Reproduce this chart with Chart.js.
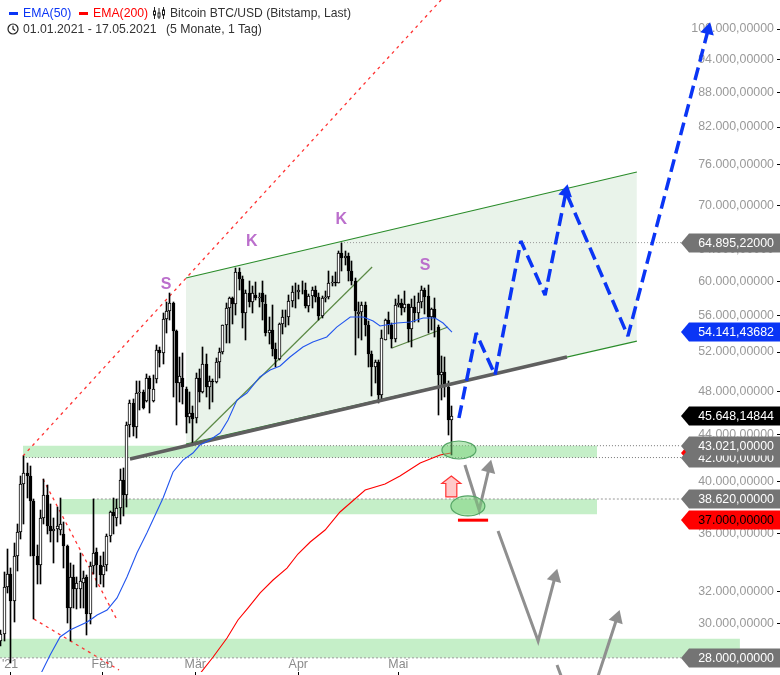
<!DOCTYPE html>
<html>
<head>
<meta charset="utf-8">
<style>
  html, body { margin: 0; padding: 0; background: #fff; }
  #wrap { position: relative; width: 780px; height: 675px; overflow: hidden; font: 12.25px "Liberation Sans", Arial, sans-serif; color: #333; }
  #line-chart { position: absolute; left: 0; top: 0; }
  .head { position: absolute; white-space: pre; line-height: 14px; }
</style>
<script src="https://cdn.jsdelivr.net/npm/chart.js@4"></script>
</head>
<body>
<div id="wrap">
  <canvas id="line-chart" width="780" height="675"></canvas>
  <div class="head" style="left:9px;top:12px;width:9px;height:3px;background:#0a35f5"></div>
  <div class="head" style="left:23px;top:6px;color:#0a35f5">EMA(50)</div>
  <div class="head" style="left:79px;top:12px;width:9px;height:3px;background:#f00"></div>
  <div class="head" style="left:93px;top:6px;color:#f00">EMA(200)</div>
  <svg class="head" style="left:153px;top:7px" width="12" height="12" viewBox="0 0 12 12" fill="none" stroke="#222"><path d="M1.5 0v12M6 1v11M10.5 0v12"/><rect x=".5" y="4" width="2" height="4" fill="#fff"/><rect x="5" y="6" width="2" height="4" fill="#fff"/><rect x="9.5" y="3" width="2" height="5" fill="#fff"/></svg>
  <div class="head" style="left:170px;top:6px;font-size:12.12px">Bitcoin BTC/USD (Bitstamp, Last)</div>
  <svg class="head" style="left:7px;top:23px" width="12" height="12" viewBox="0 0 12 12" fill="none" stroke="#222" stroke-width="1.2"><circle cx="6" cy="6" r="5"/><path d="M6 2.8V6l2.2 1.6"/></svg>
  <div class="head" style="left:23px;top:22px">01.01.2021 - 17.05.2021</div>
  <div class="head" style="left:166px;top:22px">(5 Monate, 1 Tag)</div>
</div>
<script>
// daily candles, day 0 = 01.01.2021
const opens = [28990,29374,32300,33200,31400,34400,36100,39800,40700,40500,38500,34400,33800,37200,38900,36600,36200,36350,36300,36000,35100,31000,33000,32200,32200,32600,33000,30600,33700,34700,33800,33100,33800,35800,37600,37200,37900,40100,38900,44900,46900,44700,47900,48000,47100,49300,47100,49200,52200,51900,55600,56500,57400,54300,48800,49300,48300,45600,46000,45500,49300,48000,50800,48400,49000,48900,51000,52000,54900,56900,58000,57300,61100,60300,56300,58600,57600,58400,58000,58600,57351,54083,54340,52303,51293,55025,55817,55777,57635,58746,58760,59004,59015,57090,58207,58970,58076,55969,58000,58100,59770,59980,59830,63575,62959,63160,61334,60006,56150,56400,57200,54930,51790,50450,50960,47670,53300,55480,54930,53390,57200,57430,56850,57260,54490,56980,56270,57550,58960,58270,55820,56700,54700,49600,49900,48400,45300]
const highs = [29600,33300,34900,33600,35300,36700,40500,42100,41500,41300,38600,35200,37800,40200,39700,38200,37200,38000,38700,36900,35200,33900,33800,33000,34600,33400,33100,34000,38600,35000,34400,34700,36000,37700,38700,38600,41000,41100,45100,47200,47300,49000,49000,48200,49700,49500,49600,52700,52500,56300,57500,58600,57600,54400,51500,51900,48400,48000,46600,49800,50200,52500,51800,49500,49200,51400,52400,54900,57400,58100,58100,61700,61700,60600,59000,60100,59400,59900,58600,60000,58400,55800,57200,53000,55100,56600,56600,58400,59400,59800,59500,60000,59800,58500,59300,59400,58600,58200,58900,61300,60700,61100,63800,64895,63800,63500,62500,60400,57500,57500,57500,55400,52100,51200,51200,54350,55600,56400,55200,57900,58400,57900,58900,57300,57900,58300,58600,59400,59200,59500,56800,58000,54900,51600,51500,49000,46600]
const lows = [28700,29000,31900,27700,30100,33400,35600,36700,38700,34400,30300,32500,32500,36700,36000,35400,33900,35400,35900,33600,30071,29000,31000,30900,31000,31000,29300,30000,33200,32300,32500,32300,33400,35400,36000,36600,36700,37300,38000,43800,43900,43700,46200,46300,47000,46000,47000,48800,50500,50800,54000,55500,47500,44900,47000,46800,44100,45000,43100,45000,47000,47900,47500,46300,47000,48800,49300,51800,53000,53000,55000,56100,59000,54600,53300,57000,56300,57800,57000,55500,53700,52900,51600,50400,51200,53900,54700,54900,57000,56800,57900,58500,56900,56400,56800,57600,55500,55700,57600,57900,59400,59400,59800,61300,62000,60000,59600,51700,53500,53300,53700,50500,47600,48800,46900,47300,53300,53900,52400,53100,57000,56100,56400,53100,52500,55300,55300,56900,56200,54000,54400,53600,45800,47200,47500,44000,42200]
const closes = [29374,32300,33200,31400,34400,36100,39800,40700,40500,38500,34400,33800,37200,38900,36600,36200,36350,36600,36700,35100,31000,33000,32200,32600,32700,32900,30600,33700,34600,33800,33100,33700,35800,37600,37300,37900,40100,38900,44900,46900,44700,47900,48000,46400,49300,48300,48300,52200,51900,55600,56500,57400,54300,48800,49500,48400,45600,46000,45400,49300,48000,50800,48400,49000,48900,51000,52000,54900,56900,58000,57300,61100,60300,56300,58600,57600,58600,58000,58100,57600,54083,54340,52303,51293,55025,55817,55777,57635,58746,58760,59004,59015,57090,58207,58970,58076,55969,58000,58100,59770,59980,59830,63575,62959,63160,61334,60006,56500,56400,57200,54930,51790,50450,50960,47670,53500,55480,54930,53390,57200,57430,56850,57260,54490,56980,56270,57550,58960,58130,55820,56680,55700,49600,49900,48400,45300,45648]

const ema50Days = [11.9,14.9,17.9,20.9,26.1,29.1,32.1,35.1,38.1,41.1,44.1,49,52,55,58,60.1,63.1,66.2,68.6,71.3,74.3,78.2,81.3,84.3,87.3,91.2,94.2,98.4,101.4,105.5,109.4,112.4,114.5,119.6,123.6,127.5,131.1,133.5,136.2]
const ema50 = [27040,28160,29210,29620,30110,30540,30850,31610,32980,34620,36050,38700,40790,41790,42390,43080,43520,44140,45320,47190,47860,49440,50140,50550,51480,52530,53070,53610,54700,55820,55820,55370,54820,55150,55260,55710,55710,55150,54141]
const ema200Days = [59.8,64.1,68.3,71.6,74.6,78.3,82.2,86.4,89.7,93.4,97.9,102.4,110,116,120.5,126.6,132.6,135.9]
const ema200 = [27040,28050,29150,30230,30970,31930,32780,33580,34550,35400,36270,37620,39330,39810,40460,41540,42220,42390]

// drawn trend lines
const channelDays = [55.9, 192]
const channelTop = [60410, 74870]
const channelBottom = [43170, 53170]
const supportDays = [39, 170.9]
const support = [41880, 51480]
const riseDays = [58, 112.1]
const rise = [43170, 61770]
const neckDays = [118.1, 135]
const neck = [52430, 54700]
const redUpDays = [6.7, 132.9]
const redUp = [42130, 106050]
const redDownDays = [12.75, 34.8]
const redDown = [40210, 30350]
const redLowDays = [10, 35.7]
const redLow = [30290, 27320]

// forecast paths
const forecastDays = [138.3, 143.5, 149.2, 157, 164.3, 170.6, 189.3, 213.5]
const forecast = [45500, 54040, 49640, 65110, 58360, 71890, 53710, 99800]
const greyADays = [140.1, 144.4, 147.4]
const greyA = [41370, 37770, 41120]
const greyBDays = [150.1, 162.2, 167.3]
const greyB = [36200, 28970, 32980]
const greyCDays = [167.9, 175.1, 186]
const greyC = [27600, 24250, 30350]
const stopDays = [138, 147.1]
const stopLevel = [37000, 37000]

// support zones
const zoneADays = [6.7, 180]
const zoneATop = [43021, 43021]
const zoneABottom = [42000, 42000]
const zoneBDays = [17.9, 180]
const zoneBTop = [38620, 38620]
const zoneBBottom = [37450, 37450]
const zoneCDays = [-0.23, 223.1]
const zoneCTop = [29100, 29100]
const zoneCBottom = [28000, 28000]

// dotted level lines
const level64Days = [102.7, 205.3]
const level64 = [64895, 64895]
const level43Days = [55.9, 205.3]
const level43 = [43021, 43021]
const level42Days = [6.7, 205.3]
const level42 = [42000, 42000]
const level38Days = [27.8, 205.3]
const level38 = [38620, 38620]
const level28Days = [-0.23, 205.3]
const level28 = [28000, 28000]

const patternLabels = ["S", "K", "K", "S"]
const patternDays = [49.9, 75.8, 102.8, 128.1]
const patternPrices = [59560, 64970, 67930, 61890]

const ellipseDays = [138.3, 141]
const ellipsePrices = [42650, 38080]
const markerDay = 136
const markerTop = 40460
const markerBottom = 38780

const yTicks = [100000,94000,88000,82000,76000,70000,64000,60000,56000,52000,48000,44000,42000,40000,36000,32000,30000,28000]
const yTickLabels = ["100.000,00000","94.000,00000","88.000,00000","82.000,00000","76.000,00000","70.000,00000","64.000,00000","60.000,00000","56.000,00000","52.000,00000","48.000,00000","44.000,00000","42.000,00000","40.000,00000","36.000,00000","32.000,00000","30.000,00000","28.000,00000"]
const xTicks = [2.8, 30.65, 58.7, 89.8, 120]
const xTickLabels = ["'21", "Feb", "Mär", "Apr", "Mai"]

const tagPrices = [28000, 42390, 42000, 43021, 38620, 37000, 45648.14844, 54141.43682, 64895.22]
const tagLabels = ["28.000,00000", "", "42.000,00000", "43.021,00000", "38.620,00000", "37.000,00000", "45.648,14844", "54.141,43682", "64.895,22000"]
const tagFills = ["#747474", "#f00", "#747474", "#747474", "#747474", "#f00", "#000", "#0a35f5", "#747474"]
const tagInks = ["#fff", "#fff", "#fff", "#fff", "#fff", "#000", "#fff", "#fff", "#fff"]

const xy = (days, values) => days.map((d, i) => ({ x: d, y: values[i] }))

const line = (days, values, color, width, extra) => Object.assign({
    type: 'line',
    data: xy(days, values),
    borderColor: color,
    borderWidth: width,
    pointRadius: 0,
    fill: false,
    tension: 0,
}, extra)

const zoneFill = (days, top, bottom, color, order) => [
    line(days, top, 'rgba(0,0,0,0)', 0, { fill: '+1', backgroundColor: color, order: order }),
    line(days, bottom, 'rgba(0,0,0,0)', 0, { order: order }),
]

const candleDays = opens.map((_, i) => i)
const up = opens.map((o, i) => closes[i] >= o)

const datasets = [
    ...zoneFill(channelDays, channelTop, channelBottom, '#e9f3ea', 30),
    ...zoneFill(zoneADays, zoneATop, zoneABottom, '#c5efc8', 29),
    ...zoneFill(zoneBDays, zoneBTop, zoneBBottom, '#c5efc8', 29),
    ...zoneFill(zoneCDays, zoneCTop, zoneCBottom, '#c5efc8', 29),
    line(level64Days, level64, '#999', 1, { borderDash: [1, 2], order: 28 }),
    line(level43Days, level43, '#777', 1, { borderDash: [1, 2], order: 28 }),
    line(level42Days, level42, '#777', 1, { borderDash: [1, 2], order: 28 }),
    line(level38Days, level38, '#999', 1, { borderDash: [2, 2], order: 28 }),
    line(level28Days, level28, '#999', 1, { borderDash: [2, 2], order: 28 }),
    line(channelDays, channelTop, '#2a8c2a', 1.2, { order: 27 }),
    line(channelDays, channelBottom, '#2a8c2a', 1.2, { order: 27 }),
    line(riseDays, rise, '#5b8a45', 1.2, { order: 26 }),
    line(neckDays, neck, '#5b8a45', 1.2, { order: 26 }),
    line(redUpDays, redUp, '#f33', 1.3, { borderDash: [3, 4], order: 25 }),
    line(redDownDays, redDown, '#f33', 1.3, { borderDash: [3, 4], order: 25 }),
    line(redLowDays, redLow, '#f33', 1.3, { borderDash: [3, 4], order: 25 }),
    {
        type: 'bar',
        data: candleDays.map(i => ({ x: i, y: [lows[i], highs[i]] })),
        backgroundColor: '#000',
        barThickness: 1,
        grouped: false,
        order: 12,
    },
    {
        type: 'bar',
        data: candleDays.map(i => ({ x: i, y: [Math.min(opens[i], closes[i]), Math.max(opens[i], closes[i])] })),
        backgroundColor: up.map(u => u ? '#fff' : '#000'),
        borderColor: '#000',
        borderWidth: 1,
        borderSkipped: false,
        barThickness: 3,
        grouped: false,
        order: 11,
    },
    line(supportDays, support, '#5f5f5f', 3.5, { order: 10 }),
    line(ema50Days, ema50, '#2255ee', 1.1, { order: 9 }),
    line(ema200Days, ema200, '#f00', 1.1, { order: 9 }),
    line(stopDays, stopLevel, '#f00', 3, { order: 8 }),
    line(forecastDays, forecast, '#0a35f5', 3.5, {
        borderDash: [13, 6],
        borderJoinStyle: 'bevel',
        pointRadius: [0, 0, 0, 0, 0, 8, 0, 8],
        pointStyle: 'triangle',
        pointRotation: [0, 0, 0, 0, 0, 11.5, 0, 14.6],
        pointBackgroundColor: '#0a35f5',
        pointBorderColor: '#0a35f5',
        pointBorderWidth: 0,
        clip: false,
        order: 4,
    }),
    line(greyADays, greyA, '#8f8f8f', 3, { pointRadius: [0, 0, 8.5], pointStyle: 'triangle', pointRotation: [0, 0, 14], pointBackgroundColor: '#8f8f8f', pointBorderWidth: 0, order: 5 }),
    line(greyBDays, greyB, '#8f8f8f', 3, { pointRadius: [0, 0, 8.5], pointStyle: 'triangle', pointRotation: [0, 0, 15], pointBackgroundColor: '#8f8f8f', pointBorderWidth: 0, order: 5 }),
    line(greyCDays, greyC, '#8f8f8f', 3, { pointRadius: [0, 0, 8.5], pointStyle: 'triangle', pointRotation: [0, 0, 18], pointBackgroundColor: '#8f8f8f', pointBorderWidth: 0, clip: false, order: 5 }),
]

// candles look blurry on fractional pixels, snap them
const snapCandles = {
    id: 'snapCandles',
    afterDatasetsUpdate(chart) {
        chart.getSortedVisibleDatasetMetas().filter(m => m.type === 'bar').forEach(m => {
            m.data.forEach(el => {
                el.x = Math.floor(el.x) + 0.5
                el.y = Math.round(el.y)
                el.base = Math.round(el.base)
                el.height = el.base - el.y
            })
        })
    }
}

// x labels sit inside the plot, over the bottom edge
const xLabels = {
    id: 'xLabels',
    beforeDatasetsDraw(chart) {
        const { ctx, scales: { x } } = chart
        ctx.save()
        ctx.font = '12.4px "Liberation Sans", Arial, sans-serif'
        ctx.fillStyle = '#8a8a8a'
        ctx.textAlign = 'center'
        ctx.textBaseline = 'middle'
        xTickLabels.forEach((s, i) => ctx.fillText(s, x.getPixelForValue(xTicks[i]), 665))
        ctx.restore()
    }
}

// ellipses, pattern letters and the price tags on the right edge
const overlay = {
    id: 'overlay',
    afterDatasetsDraw(chart) {
        const { ctx, scales: { x, y } } = chart
        ctx.save()
        ellipseDays.forEach((d, i) => {
            ctx.beginPath()
            ctx.ellipse(x.getPixelForValue(d), y.getPixelForValue(ellipsePrices[i]), 17, i ? 10 : 9, 0, 0, Math.PI * 2)
            ctx.fillStyle = 'rgba(120,210,120,0.5)'
            ctx.strokeStyle = '#55a565'
            ctx.lineWidth = 1.2
            ctx.fill()
            ctx.stroke()
        })

        const mx = x.getPixelForValue(markerDay), t = y.getPixelForValue(markerTop), b = y.getPixelForValue(markerBottom)
        ctx.beginPath()
        ctx.moveTo(mx, t)
        ctx.lineTo(mx + 9.5, t + 7.5)
        ctx.lineTo(mx + 5.5, t + 7.5)
        ctx.lineTo(mx + 5.5, b)
        ctx.lineTo(mx - 5.5, b)
        ctx.lineTo(mx - 5.5, t + 7.5)
        ctx.lineTo(mx - 9.5, t + 7.5)
        ctx.closePath()
        ctx.fillStyle = '#ffc9c9'
        ctx.strokeStyle = '#f33'
        ctx.lineWidth = 1.2
        ctx.fill()
        ctx.stroke()

        ctx.font = 'bold 16px "Liberation Sans", Arial, sans-serif'
        ctx.fillStyle = '#bb6fcc'
        ctx.textAlign = 'center'
        ctx.textBaseline = 'middle'
        patternLabels.forEach((s, i) => ctx.fillText(s, x.getPixelForValue(patternDays[i]), y.getPixelForValue(patternPrices[i])))

        ctx.font = '12.4px "Liberation Sans", Arial, sans-serif'
        ctx.textAlign = 'right'
        tagPrices.forEach((p, i) => {
            const py = Math.round(y.getPixelForValue(p))
            ctx.beginPath()
            ctx.moveTo(681, py)
            ctx.lineTo(689, py - 9.5)
            ctx.lineTo(780, py - 9.5)
            ctx.lineTo(780, py + 9.5)
            ctx.lineTo(689, py + 9.5)
            ctx.closePath()
            ctx.fillStyle = tagFills[i]
            ctx.fill()
            ctx.fillStyle = tagInks[i]
            ctx.fillText(tagLabels[i], 774, py + 0.5)
        })
        ctx.restore()
    }
}

new Chart(document.getElementById("line-chart"), {
    type: 'bar',
    data: { datasets: datasets },
    plugins: [snapCandles, xLabels, overlay],
    options: {
        responsive: false,
        animation: false,
        events: [],
        layout: { autoPadding: false, padding: 0 },
        scales: {
            x: {
                type: 'linear',
                min: -0.226,
                max: 234.3,
                offset: false,
                afterFit: s => { s.height = 3; s.paddingLeft = 0; s.paddingRight = 0 },
                afterBuildTicks: s => { s.ticks = xTicks.map(v => ({ value: v })) },
                grid: { drawOnChartArea: false, tickLength: 3, color: '#000', offset: false },
                border: { display: false },
                ticks: { display: false, autoSkip: false, maxRotation: 0 },
            },
            y: {
                type: 'logarithmic',
                position: 'right',
                min: 27210,
                max: 106050,
                afterFit: s => { s.width = 3; s.paddingTop = 0; s.paddingBottom = 0 },
                afterBuildTicks: s => { s.ticks = yTicks.map(v => ({ value: v })) },
                grid: { drawOnChartArea: false, tickLength: 3, color: '#000' },
                border: { display: false },
                ticks: {
                    mirror: true,
                    autoSkip: false,
                    padding: -3,
                    color: '#999',
                    font: { family: '"Liberation Sans", Arial, sans-serif', size: 12.4 },
                    callback: (v, i) => yTickLabels[i],
                },
            },
        },
        plugins: {
            legend: { display: false },
            tooltip: { enabled: false },
        },
    },
})
</script>
</body>
</html>
